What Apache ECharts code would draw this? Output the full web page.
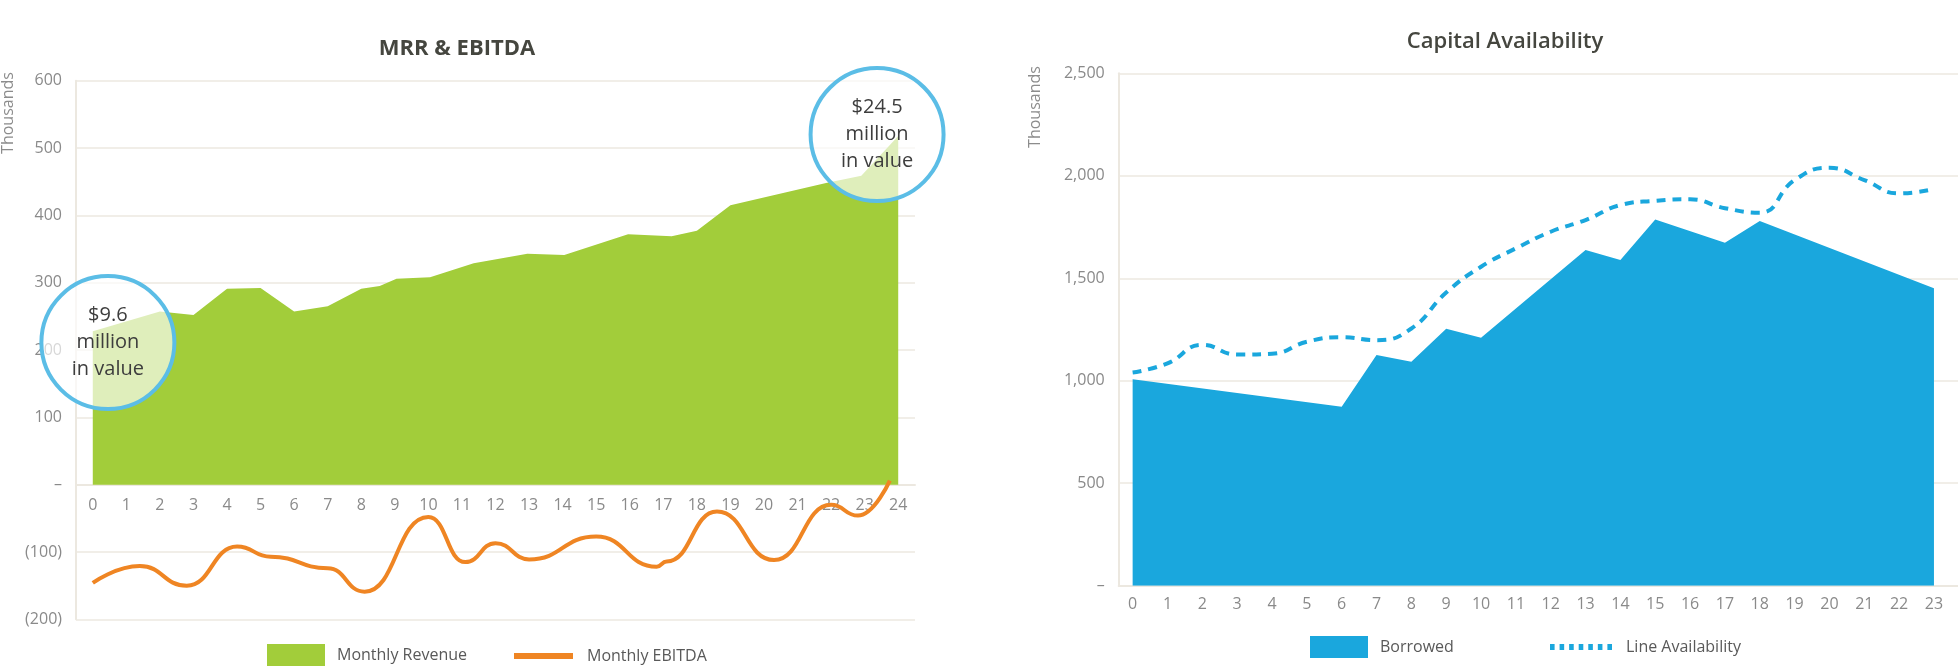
<!DOCTYPE html>
<html>
<head>
<meta charset="utf-8">
<script src="https://cdn.jsdelivr.net/npm/echarts@6/dist/echarts.min.js"></script>
<style>
html,body{margin:0;padding:0;background:#fff;}
#main{width:1958px;height:666px;}
</style>
</head>
<body>
<div id="main"></div>
<script>
// ---- data ----
const mrrTicks = [0,1,2,3,4,5,6,7,8,9,10,11,12,13,14,15,16,17,18,19,20,21,22,23,24];
const revenueMonths = [0,2,3,4,5,6,7,8,8.55,9.05,10.05,11.35,12.95,14.05,15.95,17.25,18,19,21.85,22.9,24];
const revenueValues = [228,257,252,291,292,257,265,291,295,306,308,329,343,341,372,369,377,415,448,459,518];
const ebitdaMonths = [0,1.4,2.8,4.3,5.3,7,8.1,10,11.1,12,13,15,16.8,17.1,18.6,20.3,22,22.8,23.75];
const ebitdaValues = [-146,-121,-150,-92,-107,-124,-159,-48,-115,-87,-111,-77,-122,-114,-40,-112,-30,-46,6];

const capTicks = [0,1,2,3,4,5,6,7,8,9,10,11,12,13,14,15,16,17,18,19,20,21,22,23];
const borrowedMonths = [0,6,7,8,9,10,13,14,15,17,18,23];
const borrowedValues = [1007,873,1125,1093,1254,1210,1638,1589,1787,1673,1779,1451];
const lineAvailMonths = [0,1,2,3,4,5,6,7,8,9,10,11,12,13,14,15,16,17,18,19,20,21,22,23];
const lineAvailValues = [1040,1085,1175,1128,1132,1190,1212,1198,1255,1430,1556,1646,1727,1784,1857,1878,1885,1842,1820,1979,2039,1979,1914,1935];

const calloutTexts = ['$9.6\nmillion\nin value', '$24.5\nmillion\nin value'];

// ---- helpers ----
const zip = (xs, ys) => xs.map((x, i) => [x, ys[i]]);
const GREEN = '#a2cd3a', ORANGE = '#ef8523', BLUE = '#1aa7dd', RING = '#5bbde6';
const GRID = '#ece8e0', LABEL = '#8a8a8a', FONT = 'Open Sans';
const mrrFmt = v => v === 0 ? '–' : (v < 0 ? '(' + Math.abs(v) + ')' : String(v));
const capFmt = v => v === 0 ? '–' : v.toLocaleString('en-US');

// dotted legend icon: 7 small squares
let dotPath = 'path://';
for (let i = 0; i < 7; i++) {
  const x0 = (i * 9.57).toFixed(2), x1 = (i * 9.57 + 4.6).toFixed(2);
  dotPath += 'M' + x0 + ',0H' + x1 + 'V6H' + x0 + 'Z';
}

const chart = echarts.init(document.getElementById('main'), null, {renderer: 'canvas'});
const axisLabelBase = {color: LABEL, fontSize: 16, fontFamily: FONT};
const legendText = {color:'#595959', fontSize:16, fontFamily: FONT};

chart.setOption({
  animation: false,
  backgroundColor: '#fff',
  graphic: [
    {type:'text', x: 457, y: 49, style:{text:'MRR & EBITDA', align:'center', verticalAlign:'middle', fill:'#45463f', font:'bold 22px "Open Sans"'}},
    {type:'text', x: 1505, y: 42, style:{text:'Capital Availability', align:'center', verticalAlign:'middle', fill:'#45463f', font:'600 22px "Open Sans"'}},
    {type:'text', x: 8.5, y: 113, rotation: Math.PI/2, style:{text:'Thousands', align:'center', verticalAlign:'middle', fill:'#8c8c8c', font:'16px "Open Sans"'}},
    {type:'text', x: 1035, y: 107, rotation: Math.PI/2, style:{text:'Thousands', align:'center', verticalAlign:'middle', fill:'#8c8c8c', font:'16px "Open Sans"'}}
  ],
  grid: [
    {left: 76, top: 80.7, width: 839, height: 538.6, outerBoundsMode: 'none', containLabel: false},
    {left: 1118.7, top: 73.3, width: 839.3, height: 512.4, outerBoundsMode: 'none', containLabel: false},
    // upper (positive) part of the MRR chart, used to place the month axis on the zero line
    {left: 76, top: 80.7, width: 839, height: 404.0, outerBoundsMode: 'none', containLabel: false}
  ],
  legend: [
    {left: 267, top: 644, padding: 0, itemWidth: 58, itemHeight: 22, data: [{name:'Monthly Revenue', icon:'rect', itemStyle:{color: GREEN}}], textStyle: Object.assign({padding:[0,0,0,7]}, legendText)},
    {left: 514, top: 648, padding: 0, itemWidth: 59, itemHeight: 6, data: [{name:'Monthly EBITDA', icon:'rect', itemStyle:{color: ORANGE}}], textStyle: Object.assign({padding:[0,0,0,9]}, legendText)},
    {left: 1310, top: 636, padding: 0, itemWidth: 58, itemHeight: 22, data: [{name:'Borrowed', icon:'rect', itemStyle:{color: BLUE}}], textStyle: Object.assign({padding:[0,0,0,7]}, legendText)},
    {left: 1550, top: 639, padding: 0, itemWidth: 62, itemHeight: 6, data: [{name:'Line Availability', icon: dotPath, itemStyle:{color: BLUE}}], textStyle: Object.assign({padding:[0,0,0,9]}, legendText)}
  ],
  xAxis: [
    {gridIndex: 0, type: 'value', min: -0.5, max: 24.5,
     axisLine: {show: false}, axisTick: {show: false}, splitLine: {show: false}, axisLabel: {show: false}},
    {gridIndex: 1, type: 'value', min: -0.4, max: 23.69,
     axisLine: {show: true, onZero: false, lineStyle: {color: GRID, width: 2}},
     axisTick: {show: false}, splitLine: {show: false},
     axisLabel: Object.assign({customValues: capTicks, margin: 11, formatter: v => String(v)}, axisLabelBase)},
    {gridIndex: 2, type: 'value', min: -0.5, max: 24.5,
     axisLine: {show: true, onZero: false, lineStyle: {color: GRID, width: 2}},
     axisTick: {show: false}, splitLine: {show: false},
     axisLabel: Object.assign({customValues: mrrTicks, margin: 13, formatter: v => String(v)}, axisLabelBase)}
  ],
  yAxis: [
    {gridIndex: 0, type: 'value', min: -200, max: 600, interval: 100,
     axisLine: {show: true, onZero: false, lineStyle: {color: GRID, width: 2}}, axisTick: {show: false},
     splitLine: {show: true, lineStyle: {color: GRID, width: 1.5}},
     axisLabel: Object.assign({formatter: mrrFmt, margin: 14}, axisLabelBase)},
    {gridIndex: 1, type: 'value', min: 0, max: 2500, interval: 500,
     axisLine: {show: true, onZero: false, lineStyle: {color: GRID, width: 2}}, axisTick: {show: false},
     splitLine: {show: true, lineStyle: {color: GRID, width: 1.5}},
     axisLabel: Object.assign({formatter: capFmt, margin: 14}, axisLabelBase)},
    {gridIndex: 2, type: 'value', min: 0, max: 600, show: false}
  ],
  series: [
    {name: 'Monthly Revenue', type: 'line', xAxisIndex: 0, yAxisIndex: 0,
     data: zip(revenueMonths, revenueValues), symbol: 'none',
     lineStyle: {width: 0, color: GREEN}, itemStyle: {color: GREEN},
     areaStyle: {color: GREEN, opacity: 1},
     markPoint: {
       symbol: 'circle', symbolSize: 133, silent: true,
       itemStyle: {color: 'rgba(255,255,255,0.66)', borderColor: RING, borderWidth: 4},
       label: {show: true, position: 'inside', color: '#3d3d3d', fontSize: 20, lineHeight: 27, fontFamily: FONT},
       data: [
         {coord: [0.45, 211], label: {formatter: calloutTexts[0]}},
         {coord: [23.37, 520], label: {formatter: calloutTexts[1]}}
       ]
     }},
    {name: 'Monthly EBITDA', type: 'line', xAxisIndex: 0, yAxisIndex: 0,
     data: zip(ebitdaMonths, ebitdaValues), symbol: 'none', smooth: 0.5, smoothMonotone: 'x',
     lineStyle: {width: 4, color: ORANGE}, itemStyle: {color: ORANGE}, z: 5},
    {name: 'Borrowed', type: 'line', xAxisIndex: 1, yAxisIndex: 1,
     data: zip(borrowedMonths, borrowedValues), symbol: 'none',
     lineStyle: {width: 0, color: BLUE}, itemStyle: {color: BLUE},
     areaStyle: {color: BLUE, opacity: 1}},
    {name: 'Line Availability', type: 'line', xAxisIndex: 1, yAxisIndex: 1,
     data: zip(lineAvailMonths, lineAvailValues), symbol: 'none', smooth: 0.5,
     lineStyle: {width: 4, color: BLUE, type: [9, 7], cap: 'butt'}, itemStyle: {color: BLUE}, z: 5}
  ]
});
</script>
</body>
</html>
